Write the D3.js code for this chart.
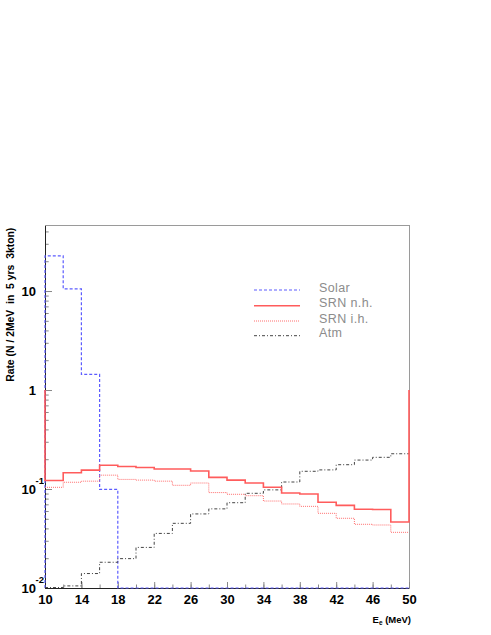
<!DOCTYPE html>
<html>
<head>
<meta charset="utf-8">
<script src="https://cdn.jsdelivr.net/npm/d3@7"></script>
<style>
  body { margin: 0; background: #fff; }
  svg { display: block; }
</style>
</head>
<body>
<svg></svg>
<script>
// bins are 2 MeV wide, low edge given
let binLow = [10, 12, 14, 16, 18, 20, 22, 24, 26, 28, 30, 32, 34, 36, 38, 40, 42, 44, 46, 48];

let solar = [22.7, 10.5, 1.44, 0.099, 0, 0, 0, 0, 0, 0, 0, 0, 0, 0, 0, 0, 0, 0, 0, 0];
let srnNH = [0.122, 0.146, 0.155, 0.174, 0.169, 0.165, 0.159, 0.159, 0.152, 0.131,
             0.123, 0.115, 0.104, 0.091, 0.089, 0.0734, 0.0684, 0.0624, 0.062, 0.0464];
let srnIH = [0.104, 0.117, 0.120, 0.138, 0.125, 0.123, 0.120, 0.109, 0.115, 0.092,
             0.0884, 0.0856, 0.0756, 0.0706, 0.0668, 0.0568, 0.0506, 0.0440, 0.0433, 0.0365];
let atm = [0.0101, 0.0105, 0.0140, 0.0182, 0.0198, 0.0257, 0.0356, 0.0450, 0.0560, 0.0630,
           0.0727, 0.0905, 0.098, 0.1177, 0.151, 0.156, 0.176, 0.196, 0.209, 0.227];

let xTicks = [10, 14, 18, 22, 26, 30, 34, 38, 42, 46, 50];
let yDecades = [0.01, 0.1, 1, 10];
let yLabels = [["10", "-2"], ["10", "-1"], ["1", ""], ["10", ""]];

let legendNames = ["Solar", "SRN n.h.", "SRN i.h.", "Atm"];

let width = 491,
    height = 635;

let fLeft = 45, fRight = 409, fTop = 225.7, fBottom = 588;

let svg = d3.select("svg")
    .attr("width", width)
    .attr("height", height);

let x = d3.scaleLinear().domain([10, 50]).range([fLeft, fRight]);
let y = d3.scaleLog().domain([0.01, 45.7]).range([fBottom, fTop]);

svg.append("clipPath").attr("id", "frame")
    .append("rect")
    .attr("x", fLeft - 1).attr("y", fTop)
    .attr("width", fRight - fLeft + 2).attr("height", fBottom - fTop + 1);

// frame (top / right light)
svg.append("rect")
    .attr("x", fLeft).attr("y", fTop)
    .attr("width", fRight - fLeft).attr("height", fBottom - fTop)
    .attr("fill", "none")
    .attr("stroke", "#9a9a9a")
    .attr("shape-rendering", "crispEdges")
    .attr("stroke-width", 1);

// x axis, ticks inside
let xMinor = binLow.concat([50]);
let gx = svg.append("g").attr("transform", `translate(0,${fBottom})`);
gx.call(d3.axisBottom(x).tickValues(xMinor).tickSize(-3.5).tickFormat(""))
    .select(".domain").remove();
gx.selectAll(".tick line").attr("stroke", "#888");
let gx2 = svg.append("g").attr("transform", `translate(0,${fBottom})`);
gx2.call(d3.axisBottom(x).tickValues(xTicks).tickSize(-6))
    .select(".domain").remove();
gx2.selectAll(".tick line").attr("stroke", "#888");
gx2.selectAll(".tick text")
    .attr("font-family", "Liberation Sans, Arial, sans-serif")
    .attr("font-weight", "bold")
    .attr("font-size", 13)
    .attr("fill", "#000")
    .attr("dy", 0)
    .attr("y", 16);

// y axis ticks
let yMinor = [];
for (let d of [0.01, 0.1, 1, 10]) {
    for (let k = 2; k <= 9; k++) {
        if (d * k <= 45.7) yMinor.push(d * k);
    }
}
let gy = svg.append("g").attr("transform", `translate(${fLeft},0)`);
gy.call(d3.axisRight(y).tickValues(yMinor).tickSize(3.7).tickFormat(""))
    .select(".domain").remove();
gy.selectAll(".tick line").attr("stroke", "#888");
let gy2 = svg.append("g").attr("transform", `translate(${fLeft},0)`);
gy2.call(d3.axisRight(y).tickValues(yDecades).tickSize(7).tickFormat(""))
    .select(".domain").remove();
gy2.selectAll(".tick line").attr("stroke", "#888");

let yl = svg.append("g")
    .attr("font-family", "Liberation Sans, Arial, sans-serif")
    .attr("font-weight", "bold");
yl.selectAll("text.base")
    .data(yDecades)
    .enter().append("text")
    .attr("class", "base")
    .attr("x", 36)
    .attr("y", d => y(d) + 4.5)
    .attr("text-anchor", "end")
    .attr("font-size", 13)
    .text((d, i) => yLabels[i][0]);
yl.selectAll("text.exp")
    .data(yDecades)
    .enter().append("text")
    .attr("class", "exp")
    .attr("x", 35.5)
    .attr("y", d => y(d) - 5.5)
    .attr("font-size", 9.5)
    .text((d, i) => yLabels[i][1]);

// axis lines
svg.append("line").attr("x1", fLeft).attr("x2", fLeft).attr("y1", fTop).attr("y2", fBottom)
    .attr("stroke", "#222").attr("shape-rendering", "crispEdges");
svg.append("line").attr("x1", fLeft).attr("x2", fRight).attr("y1", fBottom).attr("y2", fBottom)
    .attr("stroke", "#222").attr("shape-rendering", "crispEdges");

// titles
svg.append("text")
    .attr("transform", `translate(14,${fTop + 2}) rotate(-90)`)
    .attr("text-anchor", "end")
    .attr("font-family", "Liberation Sans, Arial, sans-serif")
    .attr("font-weight", "bold")
    .attr("font-size", 10.4)
    .style("white-space", "pre")
    .text("Rate (N / 2MeV  in  5 yrs  3kton)");

let xt = svg.append("text")
    .attr("x", fRight + 2)
    .attr("y", 623)
    .attr("text-anchor", "end")
    .attr("font-family", "Liberation Sans, Arial, sans-serif")
    .attr("font-weight", "bold")
    .attr("font-size", 9.5);
xt.append("tspan").text("E");
xt.append("tspan").attr("font-size", 6.5).attr("dy", 2).text("e");
xt.append("tspan").attr("dy", -2).style("white-space", "pre").text(" (MeV)");

// histograms
function steps(vals, startV, endV) {
    let pts = [[10, startV]];
    vals.forEach((v, i) => {
        pts.push([binLow[i], v]);
        pts.push([binLow[i] + 2, v]);
    });
    pts.push([50, endV]);
    return pts;
}
let line = d3.line()
    .x(d => x(d[0]))
    .y(d => y(Math.max(d[1], 0.01)));

let hists = [
    { vals: solar, s: 0.01, e: 0.01, color: "#5c5cff", w: 1.2, dash: "3,2" },
    { vals: srnIH, s: srnIH[0], e: srnIH[19], color: "#ff6f6f", w: 1, dash: "1,1" },
    { vals: atm, s: atm[0], e: atm[19], color: "#444", w: 1, dash: "3,2,1,2" },
    { vals: srnNH, s: 1, e: 1, color: "#ff5c5c", w: 1.6, dash: null }
];

let hg = svg.append("g").attr("clip-path", "url(#frame)");
hg.selectAll("path")
    .data(hists)
    .enter().append("path")
    .attr("d", h => line(steps(h.vals, h.s, h.e)))
    .attr("fill", "none")
    .attr("stroke", h => h.color)
    .attr("stroke-width", h => h.w)
    .attr("stroke-dasharray", h => h.dash);

// legend
let legendStyle = [hists[0], hists[3], hists[1], hists[2]];
let legendY = [290, 305.7, 321, 335.7];
let lg = svg.append("g");
lg.selectAll("line")
    .data(legendStyle)
    .enter().append("line")
    .attr("x1", 254).attr("x2", 300)
    .attr("y1", (d, i) => legendY[i]).attr("y2", (d, i) => legendY[i])
    .attr("stroke", d => d.color)
    .attr("stroke-width", d => d.w)
    .attr("stroke-dasharray", d => d.dash);
lg.selectAll("text")
    .data(legendNames)
    .enter().append("text")
    .attr("x", 319)
    .attr("y", (d, i) => legendY[i] + 1.5)
    .attr("font-family", "Liberation Sans, Arial, sans-serif")
    .attr("font-size", 12.5)
    .attr("letter-spacing", 0.4)
    .attr("fill", "#8c8c8c")
    .text(d => d);
</script>
</body>
</html>
